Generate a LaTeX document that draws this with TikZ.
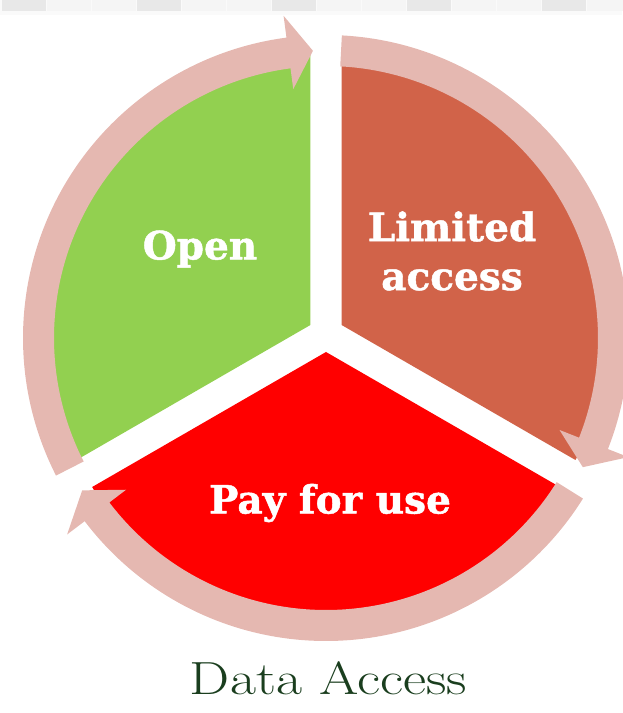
\documentclass[tikz,border=0pt]{standalone}
\usepackage{fontspec}
\usepackage{graphicx}
\newfontfamily\lblfont{DejaVu Serif}[BoldFeatures={FakeBold=1.2}]
\definecolor{segGreen}{RGB}{146,208,80}
\definecolor{segOrange}{RGB}{209,99,73}
\definecolor{segRed}{RGB}{255,0,0}
\definecolor{ringPink}{RGB}{229,184,177}
\definecolor{titleGreen}{RGB}{26,62,30}
\definecolor{stripDark}{RGB}{232,232,232}
\definecolor{stripLight}{RGB}{245,245,245}
\definecolor{stripBase}{RGB}{250,250,250}
\tikzset{
  seglabel/.style={text=white, font=\lblfont\bfseries\fontsize{39}{49}\selectfont, align=center, inner sep=0pt},
  ringarrow/.style={fill=ringPink, draw=none},
}
% #1 tail angle, #2 head base angle, #3 tip angle
\newcommand{\ringarrowpath}[3]{%
  \fill[ringarrow] (#1:303) arc[start angle=#1, end angle=#2, radius=303]
    -- (#2:325) -- (#3:287.5) -- (#2:251) -- (#2:272)
    arc[start angle=#2, end angle=#1, radius=272] -- cycle;}
\begin{document}
\begin{tikzpicture}[x=1pt,y=1pt]
\useasboundingbox (0,0) rectangle (622,713);
% top strip
\fill[stripBase] (0,698) rectangle (622,713);
\foreach \i in {0,3,6,9,12} \fill[stripDark] ({2+45*\i},702) rectangle ({45.5+45*\i},713);
\foreach \i in {1,2,4,5,7,8,10,11,13} \fill[stripLight] ({2+45*\i},702) rectangle ({45.5+45*\i},713);
% sectors
\coordinate (S) at (326,379);
\coordinate (Gv) at (310.4,388);
\coordinate (Ov) at (341.6,388);
\coordinate (Rv) at (326,361);
\fill[segGreen] (Gv) -- ++(90:270) arc[start angle=90, end angle=210, radius=270] -- cycle;
\fill[segOrange] (Ov) -- ++(-30:270) arc[start angle=-30, end angle=90, radius=270] -- cycle;
\fill[segRed] (Rv) -- ++(210:270) arc[start angle=210, end angle=330, radius=270] -- cycle;
% ring arrows
\begin{scope}[shift={(326,375)}]
  \ringarrowpath{207}{97.5}{92.6}
  \ringarrowpath{87}{-21.5}{-26.7}
  \ringarrowpath{-32}{-142.8}{-148}
\end{scope}
% labels
\node[seglabel] (open) at (200,464) {Open};
\node[seglabel] (limited) at (452,462) {Limited\\access};
\node[seglabel] (pay) at (330,210) {Pay for use};
\node[anchor=base, inner sep=0pt, text=titleGreen, font=\fontsize{46.5}{50}\selectfont] (title) at (328.5,18) {\scalebox{1.22}[1]{Data Access}};
\end{tikzpicture}
\end{document}
